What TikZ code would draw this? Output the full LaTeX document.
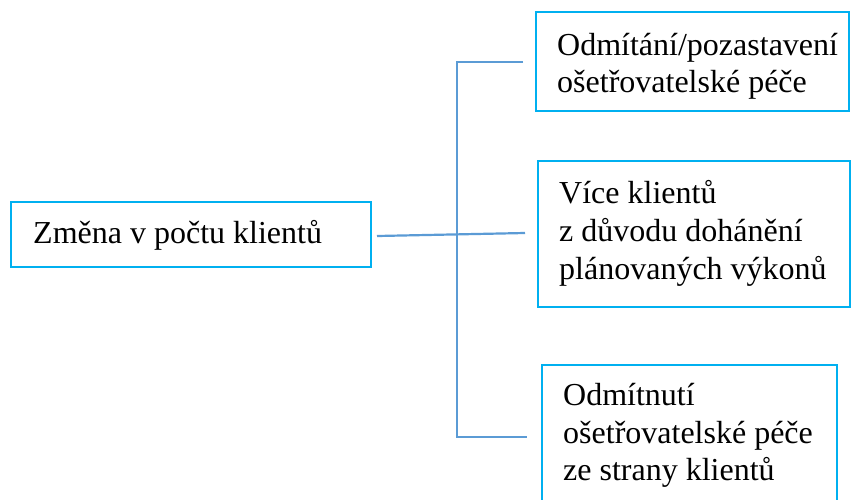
\documentclass[tikz,border=0pt]{standalone}
\usepackage{fontspec}
\setmainfont{Liberation Serif}
\definecolor{boxcol}{RGB}{0,176,240}
\definecolor{linecol}{RGB}{91,155,213}
\tikzset{
  boxst/.style={draw=boxcol, line width=2.8pt, inner sep=0pt, fill=none},
  conn/.style={draw=linecol, line width=2.2pt},
  txt/.style={anchor=base west, inner sep=0pt, font=\fontsize{32}{37}\selectfont}
}
\begin{document}
\begin{tikzpicture}[x=1pt,y=-1pt]
\useasboundingbox (0,0) rectangle (851,499);
\clip (0,0) rectangle (851,499);
% boxes
\node[boxst, minimum width=360pt, minimum height=65pt] (b1) at (191,234.5) {};
\node[boxst, minimum width=313pt, minimum height=99pt] (b2) at (692.5,61.5) {};
\node[boxst, minimum width=312pt, minimum height=146pt] (b3) at (694,234) {};
\node[boxst, minimum width=295pt, minimum height=160pt] (b4) at (689.5,445) {};
% texts
\node[txt] (t1) at (33,243) {Změna v počtu klientů};
\node[txt] (t2a) at (557,55) {Odmítání/pozastavení};
\node[txt] (t2b) at (557,92) {ošetřovatelské péče};
\node[txt] (t3a) at (559,203) {Více klientů};
\node[txt] (t3b) at (559,241) {z důvodu dohánění};
\node[txt] (t3c) at (559,279) {plánovaných výkonů};
\node[txt] (t4a) at (563,405) {Odmítnutí};
\node[txt] (t4b) at (563,443) {ošetřovatelské péče};
\node[txt] (t4c) at (563,480) {ze strany klientů};
% connectors
\coordinate (s1) at (377,236);
\coordinate (e3) at (525,233);
\coordinate (e2) at (523,62);
\coordinate (j1) at (457,62);
\coordinate (j2) at (457,437);
\coordinate (e4) at (527,437);
\draw[conn] (s1) -- (e3);
\draw[conn] (e2) -- (j1) -- (j2) -- (e4);
\end{tikzpicture}
\end{document}
